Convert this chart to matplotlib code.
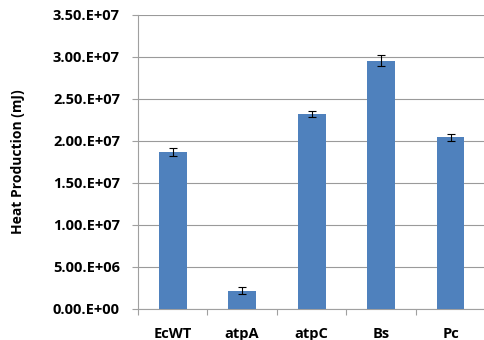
import matplotlib.pyplot as plt
import numpy as np

strains = ['EcWT', 'atpA', 'atpC', 'Bs', 'Pc']
heat = [1.87e7, 2.2e6, 2.32e7, 2.955e7, 2.045e7]
heat_err = [5.0e5, 4.2e5, 3.6e5, 6.7e5, 4.2e5]
yticks = np.arange(0, 3.5e7 + 1, 5e6)
ytick_labels = ['0.00.E+00', '5.00.E+06', '1.00.E+07', '1.50.E+07',
                '2.00.E+07', '2.50.E+07', '3.00.E+07', '3.50.E+07']

plt.rcParams['font.family'] = ['Open Sans', 'DejaVu Sans']

fig = plt.figure(figsize=(4.85, 3.4), dpi=100)
ax = fig.add_axes([0.2845, 0.0912, 0.716, 0.865])

x = np.arange(len(strains))
ax.bar(x, heat, width=0.4, color='#4F81BD', zorder=3)
ax.errorbar(x, heat, yerr=heat_err, fmt='none', ecolor='black',
            elinewidth=0.8, capsize=3.2, capthick=0.8, zorder=4)

ax.set_xlim(-0.5, len(strains) - 0.5)
ax.set_ylim(0, 3.5e7)
ax.set_yticks(yticks)
ax.set_yticklabels(ytick_labels, fontsize=10.5, fontweight='bold')
ax.set_xticks(x)
ax.set_xticklabels(strains, fontsize=10.5, fontweight='bold')
ax.set_xticks(np.arange(-0.5, len(strains)), minor=True)
ax.tick_params(axis='x', which='major', length=0, pad=13)
ax.tick_params(axis='x', which='minor', length=4, color='#a0a0a0', width=0.8)
ax.tick_params(axis='y', length=4, color='#a0a0a0', width=0.8, pad=9)

ax.yaxis.grid(True, color='#9a9a9a', linewidth=0.8, zorder=0)
for s in ['top', 'right']:
    ax.spines[s].set_visible(False)
for s in ['left', 'bottom']:
    ax.spines[s].set_color('#a0a0a0')
    ax.spines[s].set_linewidth(0.8)

ax.set_ylabel('Heat Production (mJ)', fontsize=10, fontweight='bold', labelpad=20)

fig.savefig('out.png', dpi=100)
